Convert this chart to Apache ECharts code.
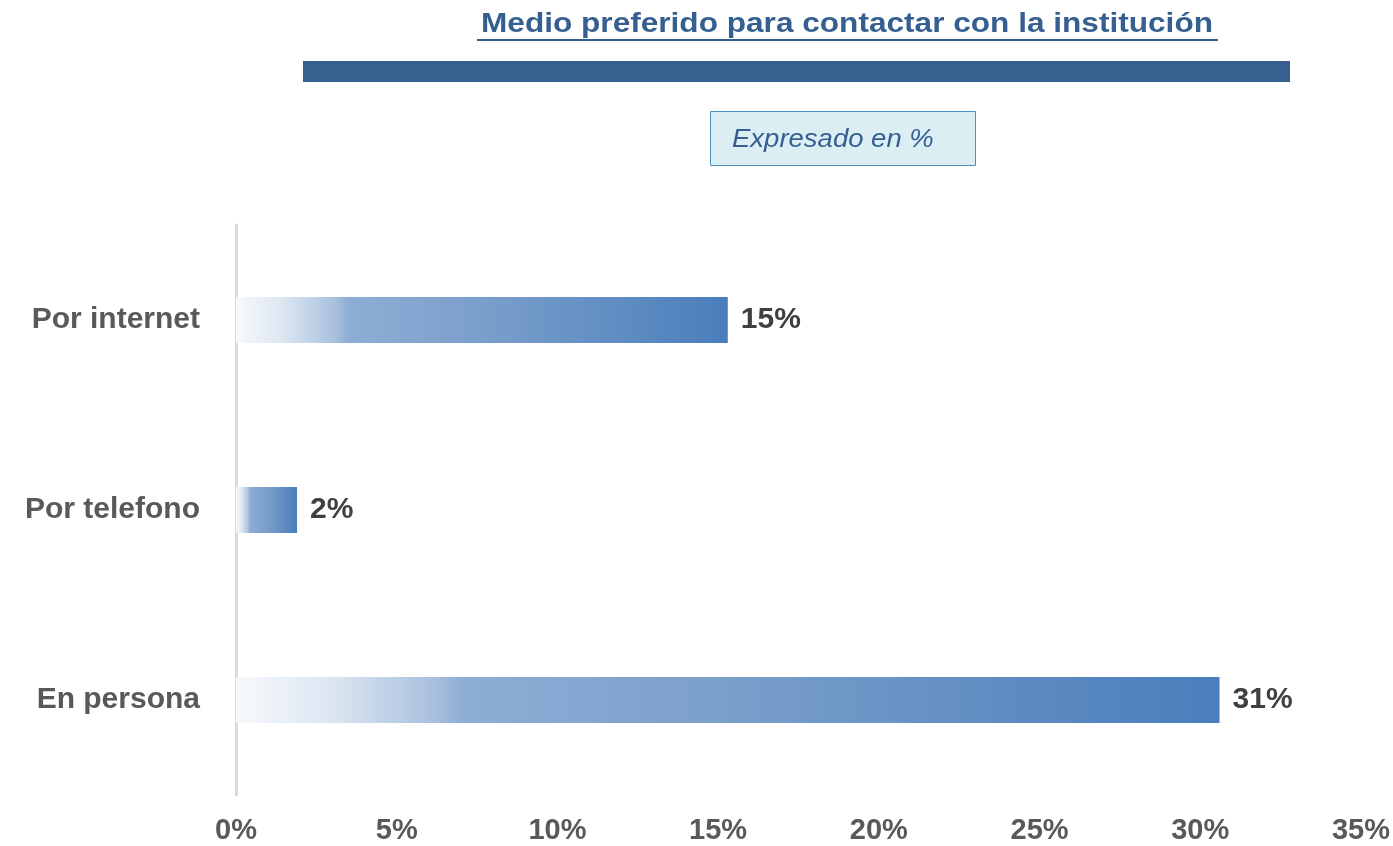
<!DOCTYPE html>
<html>
<head>
<meta charset="utf-8">
<script src="https://cdn.jsdelivr.net/npm/echarts@6/dist/echarts.min.js"></script>
<style>html,body{margin:0;padding:0;background:#fff;}#c{width:1393px;height:846px;}</style>
</head>
<body>
<div id="c"></div>
<script>
const categories = ['En persona', 'Por telefono', 'Por internet'];
const values = [30.6, 1.9, 15.3];
const valueLabels = ['31%', '2%', '15%'];
const titleText = 'Medio preferido para contactar con la institución';
const subtitleText = 'Expresado en %';

const FF = '"Liberation Sans"';
const chart = echarts.init(document.getElementById('c'));
const grad = new echarts.graphic.LinearGradient(0, 0, 1, 0, [
  {offset: 0, color: '#f7f9fc'},
  {offset: 0.1, color: '#dbe5f1'},
  {offset: 0.2, color: '#a9c1de'},
  {offset: 0.23, color: '#8eadd5'},
  {offset: 0.5, color: '#7a9fcb'},
  {offset: 1, color: '#4a7ebb'}
]);
chart.setOption({
  animation: false,
  backgroundColor: '#fff',
  grid: {left: 236, right: 31, top: 225, bottom: 51, containLabel: false},
  xAxis: {
    type: 'value', min: 0, max: 35, interval: 5,
    axisLine: {show: false}, axisTick: {show: false}, splitLine: {show: false},
    axisLabel: {formatter: '{value}%', fontFamily: FF, fontWeight: 'bold', fontSize: 29, color: '#595959', margin: 21}
  },
  yAxis: {
    type: 'category', data: categories,
    axisLine: {show: true, lineStyle: {color: '#d9d9d9', width: 3}},
    axisTick: {show: false},
    axisLabel: {fontFamily: FF, fontWeight: 'bold', fontSize: 30, color: '#595959', margin: 36}
  },
  series: [{
    type: 'bar', data: values, barWidth: 46,
    itemStyle: {color: grad},
    label: {
      show: true, position: 'right', distance: 13,
      formatter: p => valueLabels[p.dataIndex],
      fontFamily: FF, fontWeight: 'bold', fontSize: 30, color: '#404040'
    }
  }],
  graphic: [
    {type: 'text', z: 10, x: 847, y: 25, scaleX: 1.17, style: {text: titleText, align: 'center', verticalAlign: 'middle', font: 'bold 27px "Liberation Sans"', fill: '#365f91'}},
    {type: 'rect', shape: {x: 477, y: 39, width: 741, height: 2}, style: {fill: '#365f91'}},
    {type: 'rect', shape: {x: 303, y: 61, width: 987, height: 21}, style: {fill: '#366090'}},
    {type: 'rect', shape: {x: 710.5, y: 111.5, width: 265, height: 54}, style: {fill: '#dbeef4', stroke: '#4a90c4', lineWidth: 1}},
    {type: 'text', x: 732, y: 140, scaleX: 1.1, style: {text: subtitleText, verticalAlign: 'middle', font: 'italic 25px "Liberation Sans"', fill: '#365f91'}}
  ]
});
</script>
</body>
</html>
